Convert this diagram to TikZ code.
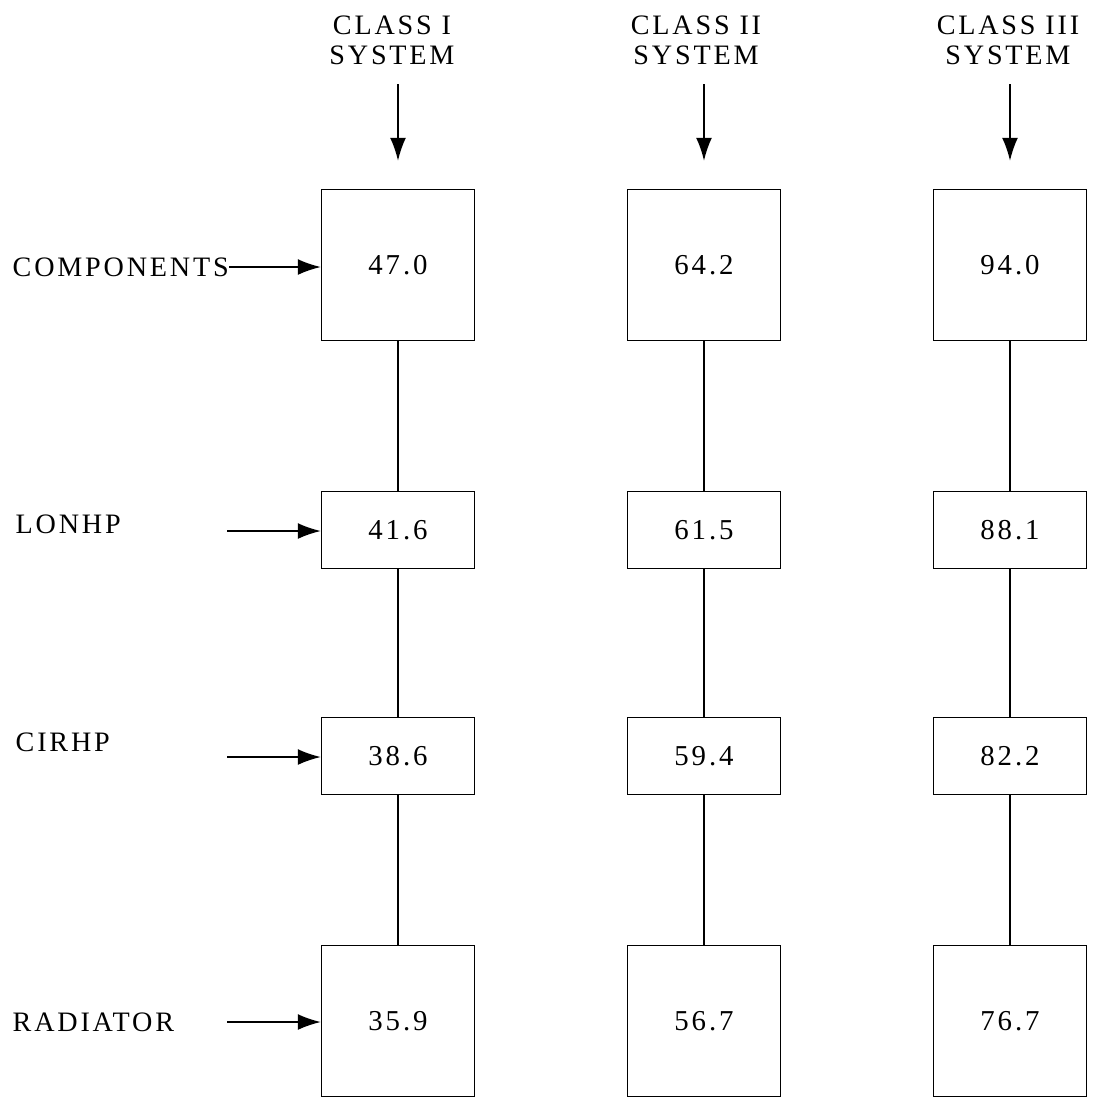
\documentclass[tikz,border=0pt]{standalone}
\usepackage{fontspec}
\setmainfont{Liberation Serif}[LetterSpace=10]
\usetikzlibrary{arrows.meta}
\tikzset{>={Latex[length=6.5pt,width=4.5pt]}, line width=1.1pt}
\tikzset{
  bigbox/.style={draw,minimum width=1.53cm,minimum height=1.51cm,inner sep=0pt,
    font=\fontsize{8.2}{8.5}\selectfont},
  hpbox/.style={draw,minimum width=1.53cm,minimum height=0.77cm,inner sep=0pt,
    font=\fontsize{8.2}{8.5}\selectfont},
  lbl/.style={inner sep=0pt,font=\fontsize{8}{8.5}\selectfont},
}

\begin{document}
\begin{tikzpicture}[x=0.01cm,y=-0.01cm]
  \useasboundingbox (0,0) rectangle (1093,1102);
  \def\xa{398}
  \def\xb{704}
  \def\xc{1010}

  % row labels
  \node[lbl,anchor=west] (lcomp) at (12,267) {COMPONENTS};
  \node[lbl,anchor=west] (llon) at (15,524) {LONHP};
  \node[lbl,anchor=west] (lcir) at (15,742) {CIRHP};
  \node[lbl,anchor=west] (lrad) at (12,1022) {RADIATOR};
  \coordinate (slon) at (227,531);
  \coordinate (scir) at (227,757);
  \coordinate (srad) at (227,1022);

  % Class I
  \node[lbl,align=center] (ha) at (\xa-6,40) {CLASS I\\SYSTEM};
  \node[bigbox] (comp1) at (\xa,265) {47.0};
  \node[hpbox] (lon1) at (\xa,530) {41.6};
  \node[hpbox] (cir1) at (\xa,756) {38.6};
  \node[bigbox] (rad1) at (\xa,1021) {35.9};

  % Class II
  \node[lbl,align=center] (hb) at (\xb-8,40) {CLASS II\\SYSTEM};
  \node[bigbox] (comp2) at (\xb,265) {64.2};
  \node[hpbox] (lon2) at (\xb,530) {61.5};
  \node[hpbox] (cir2) at (\xb,756) {59.4};
  \node[bigbox] (rad2) at (\xb,1021) {56.7};

  % Class III
  \node[lbl,align=center] (hc) at (\xc-2,40) {CLASS III\\SYSTEM};
  \node[bigbox] (comp3) at (\xc,265) {94.0};
  \node[hpbox] (lon3) at (\xc,530) {88.1};
  \node[hpbox] (cir3) at (\xc,756) {82.2};
  \node[bigbox] (rad3) at (\xc,1021) {76.7};

  % system inputs
  \draw[->,shorten <=0.19cm,shorten >=0.28cm] (ha.south -| comp1) -- (comp1);
  \draw[->,shorten <=0.19cm,shorten >=0.28cm] (hb.south -| comp2) -- (comp2);
  \draw[->,shorten <=0.19cm,shorten >=0.28cm] (hc.south -| comp3) -- (comp3);

  % row inputs
  \draw[->] (lcomp.east) -- (lcomp.east -| comp1.west);
  \draw[->] (slon) -- (slon -| lon1.west);
  \draw[->] (scir) -- (scir -| cir1.west);
  \draw[->] (srad) -- (srad -| rad1.west);

  % columns
  \draw (comp1) -- (lon1) -- (cir1) -- (rad1);
  \draw (comp2) -- (lon2) -- (cir2) -- (rad2);
  \draw (comp3) -- (lon3) -- (cir3) -- (rad3);
\end{tikzpicture}
\end{document}
